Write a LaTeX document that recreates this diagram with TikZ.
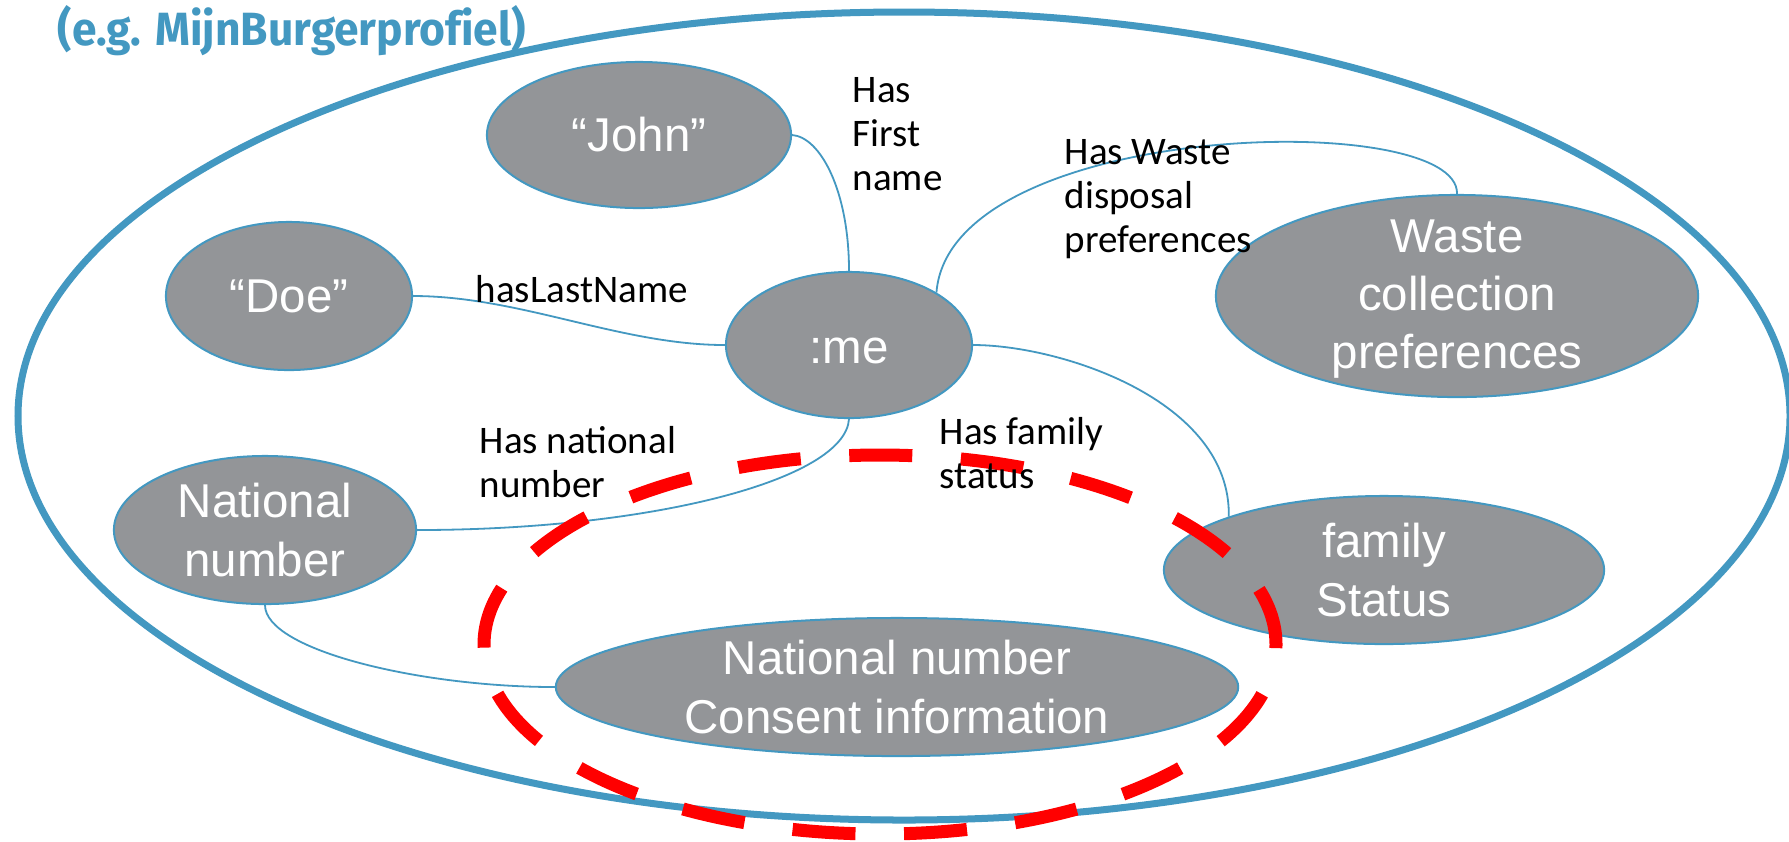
\documentclass[tikz,border=0pt]{standalone}
\usepackage{graphicx}
\usepackage{fontspec}
\setmainfont{Liberation Sans}
\newfontfamily\labelfont{Carlito}
\newfontfamily\titlefont[Ligatures=NoCommon]{Fira Sans}
\usetikzlibrary{shapes.geometric}
\definecolor{ringblue}{RGB}{67,152,193}
\definecolor{bubblegray}{RGB}{147,149,152}
\definecolor{markred}{RGB}{255,0,0}

\begin{document}
\begin{tikzpicture}[x=0.01cm,y=-0.01cm,
  bubble/.style={ellipse, draw=ringblue, line width=0.02cm, fill=bubblegray, inner sep=0pt},
  bubbletext/.style={text=white, font=\fontsize{13.5}{16.5}\selectfont, align=center, inner sep=0pt},
  rel/.style={draw=ringblue, line width=0.018cm},
  rellabel/.style={font=\labelfont\fontsize{11.1}{12.5}\selectfont, align=left, inner sep=0pt, anchor=base west},
]
\useasboundingbox (0,0) rectangle (1789,841);
\fill[white] (0,0) rectangle (1789,841);

% outer profile boundary
\draw[ringblue, line width=0.07cm] (904,416) ellipse [x radius=886, y radius=404];

% resources
\node[bubble, minimum width=3.04cm, minimum height=1.46cm,
      label={[bubbletext]center:{“John”}}] (john) at (639,135) {};
\node[bubble, minimum width=2.46cm, minimum height=1.48cm,
      label={[bubbletext]center:{“Doe”}}] (doe) at (289,296) {};
\node[bubble, minimum width=2.46cm, minimum height=1.46cm,
      label={[bubbletext, yshift=-0.055cm]center:{:me}}] (me) at (849,345) {};
\node[bubble, minimum width=4.82cm, minimum height=2.02cm,
      label={[bubbletext, yshift=-0.03cm]center:{Waste\\collection\\preferences}}] (waste) at (1457,296) {};
\node[bubble, minimum width=3.02cm, minimum height=1.48cm,
      label={[bubbletext]center:{National\\number}}] (natnum) at (265,530) {};
\node[bubble, minimum width=4.40cm, minimum height=1.48cm,
      label={[bubbletext]center:{family\\Status}}] (family) at (1384,570) {};
\node[bubble, minimum width=6.82cm, minimum height=1.38cm,
      label={[bubbletext]center:{National number\\Consent information}}] (consent) at (897,687) {};

% relations
\draw[rel] (john.east) .. controls (820,137) and (849,190) .. (me.north);
\draw[rel] (doe.east) .. controls (520,296) and (620,345) .. (me.west);
\draw[rel] (me.31) .. controls (950,120) and (1460,108) .. (waste.north);
\draw[rel] (me.east) .. controls (1060,345) and (1231,400) .. (family.161);
\draw[rel] (me.south) .. controls (845,480) and (650,530) .. (natnum.east);
\draw[rel] (natnum.south) .. controls (265,650) and (420,687) .. (consent.west);

% highlighted group
\draw[markred, line width=0.13cm, dash pattern=on 0.63cm off 0.486cm, dash phase=0.594cm]
  (880,644.5) ellipse [x radius=396, y radius=189.5];

% relation names (anchored at the baseline of their last line)
\node[rellabel] (lfirst) at (852,190) {Has\\First\\name};
\node[rellabel] (lwaste) at (1064,252) {Has Waste\\disposal\\preferences};
\node[rellabel] (llast) at (475,302) {hasLastName};
\node[rellabel] (lnat) at (479,497) {Has national\\number};
\node[rellabel] (lfam) at (939,488) {Has family\\status};

% heading
\node[anchor=base west, inner sep=0pt, text=ringblue] (title) at (57,45)
  {\resizebox{4.68cm}{0.40cm}{\titlefont\bfseries (e.g. MijnBurgerprofiel)}};
\end{tikzpicture}
\end{document}
